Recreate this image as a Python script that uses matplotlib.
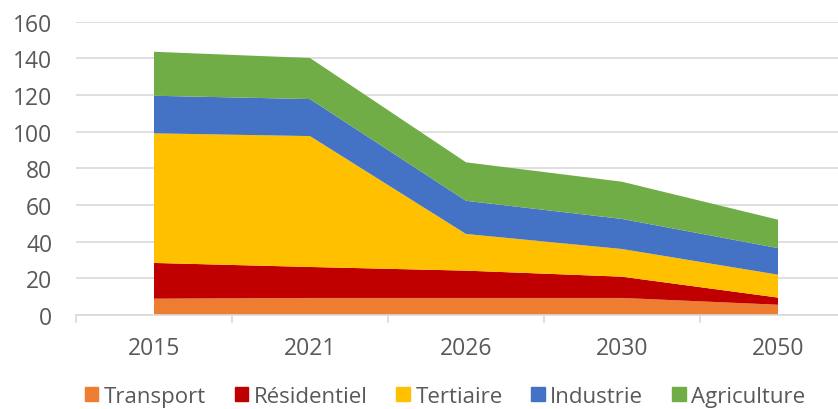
import matplotlib.pyplot as plt
import numpy as np

plt.rcParams['font.family'] = ['Open Sans', 'DejaVu Sans']

# données
annees = ['2015', '2021', '2026', '2030', '2050']
transport = [8.9, 9.3, 9.3, 9.3, 5.6]
residentiel = [19.5, 16.9, 14.9, 11.6, 3.9]
tertiaire = [70.7, 71.4, 20.0, 15.1, 12.5]
industrie = [20.5, 20.2, 18.1, 16.4, 14.5]
agriculture = [24.0, 22.4, 21.0, 20.3, 15.5]

series = [transport, residentiel, tertiaire, industrie, agriculture]
noms = ['Transport', 'Résidentiel', 'Tertiaire', 'Industrie', 'Agriculture']
couleurs = ['#ED7D31', '#C00000', '#FFC000', '#4472C4', '#70AD47']
gris = '#595959'

fig = plt.figure(figsize=(8.38, 4.10), dpi=100)
ax = fig.add_axes([76 / 838, 1 - 316 / 410, 1 - 76 / 838, (316 - 22.7) / 410])

x = np.arange(len(annees))
ax.stackplot(x, *series, colors=couleurs, labels=noms, linewidth=0, zorder=2)

ax.set_yticks(range(0, 161, 20))
ax.set_ylim(0, 160)
ax.grid(axis='y', color='#D9D9D9', linewidth=1.2, zorder=0)
ax.set_axisbelow(True)

for s in ['top', 'right', 'left']:
    ax.spines[s].set_visible(False)
ax.spines['bottom'].set_color('#D9D9D9')
ax.spines['bottom'].set_linewidth(1.2)

ax.set_xticks(x)
ax.set_xticklabels(annees)
ax.set_xticks(np.arange(-0.5, 4.6, 1), minor=True)
ax.set_xlim(-0.5, 4.5 - 18 / 156)
ax.tick_params(axis='x', which='major', length=0, pad=15, labelsize=16.5, labelcolor=gris)
ax.tick_params(axis='x', which='minor', length=6, color='#D9D9D9', width=1.2)
ax.tick_params(axis='y', length=0, pad=17, labelsize=16.5, labelcolor=gris)

handles = [plt.Rectangle((0, 0), 1, 1, color=c) for c in couleurs]
leg = fig.legend(handles, noms, loc='center', bbox_to_anchor=(0.531, 0.03), ncol=5,
                 frameon=False, fontsize=16, handlelength=0.6, handleheight=0.6,
                 handletextpad=0.25, columnspacing=1.3, borderpad=0)
for t in leg.get_texts():
    t.set_color(gris)

fig.savefig('out.png', dpi=100)
